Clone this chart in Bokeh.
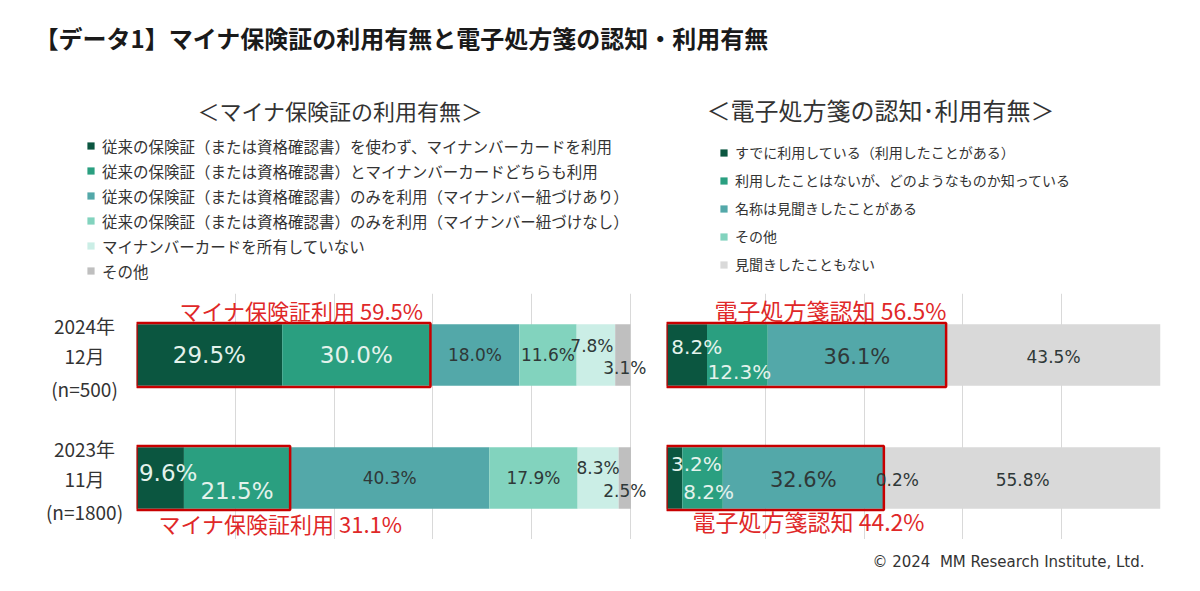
from bokeh.plotting import figure
from bokeh.models import (ColumnDataSource, FactorRange, Range1d, Legend, LegendItem,
                          LabelSet, Label, FixedTicker)
from bokeh.layouts import column, row
from bokeh.embed import file_html
from bokeh.resources import INLINE
from bokeh.core.properties import value

# ---------------- data ----------------
TITLE = "【データ1】マイナ保険証の利用有無と電子処方箋の認知・利用有無"
left_subtitle = "＜マイナ保険証の利用有無＞"
right_subtitle = "＜電子処方箋の認知･利用有無＞"
footer = "© 2024\u00a0 MM Research Institute, Ltd."

period_year = ["2024年", "2023年"]          # top -> bottom
period_month = ["12月", "11月"]
period_n = ["(n=500)", "(n=1800)"]
periods = [f"{a}{b}{c}" for a, b, c in zip(period_year, period_month, period_n)]

left_series = [
    "従来の保険証（または資格確認書）を使わず、マイナンバーカードを利用",
    "従来の保険証（または資格確認書）とマイナンバーカードどちらも利用",
    "従来の保険証（または資格確認書）のみを利用（マイナンバー紐づけあり）",
    "従来の保険証（または資格確認書）のみを利用（マイナンバー紐づけなし）",
    "マイナンバーカードを所有していない",
    "その他",
]
left_2024 = [29.5, 30.0, 18.0, 11.6, 7.8, 3.1]
left_2023 = [9.6, 21.5, 40.3, 17.9, 8.3, 2.5]
left_totals = [59.5, 31.1]
left_total_label = "マイナ保険証利用"

right_series = [
    "すでに利用している（利用したことがある）",
    "利用したことはないが、どのようなものか知っている",
    "名称は見聞きしたことがある",
    "その他",
    "見聞きしたこともない",
]
right_2024 = [8.2, 12.3, 36.1, 0.0, 43.5]
right_2023 = [3.2, 8.2, 32.6, 0.2, 55.8]
right_totals = [56.5, 44.2]
right_total_label = "電子処方箋認知"

# ---------------- style ----------------
JP = "Noto Sans CJK JP"
NUM = "DejaVu Sans"
TXT = "#333333"
DARK_TXT = "#2f3838"
LIGHT_TXT = "#e4f2ec"
RED_TXT = "#e02828"
RED_BOX = "#c80000"
GRID = "#d9d9d9"

left_colors = ["#0b5640", "#2a9f80", "#53a8a9", "#82d3be", "#cbeee6", "#bfbfbf"]
right_colors = ["#0b5640", "#2a9f80", "#53a8a9", "#82d3be", "#d9d9d9"]

# label style per period/segment: (dx, dy, size, color)  -- dy positive = up
left_lab_style = [
    [(0, 0, 23, LIGHT_TXT), (0, 0, 23, LIGHT_TXT), (0, 0, 17, DARK_TXT),
     (0, 0, 17, DARK_TXT), (-4, 9, 17, DARK_TXT), (2, -13, 17, DARK_TXT)],
    [(8, 5, 23, LIGHT_TXT), (0, -13, 23, LIGHT_TXT), (0, 0, 17, DARK_TXT),
     (0, 0, 17, DARK_TXT), (0, 10, 17, DARK_TXT), (0, -13, 17, DARK_TXT)],
]
right_lab_style = [
    [(10, 8, 20, LIGHT_TXT), (2, -17, 20, LIGHT_TXT), (0, -2, 21, DARK_TXT),
     None, (0, -2, 17, DARK_TXT)],
    [(22, 14, 20, LIGHT_TXT), (6, -14, 20, LIGHT_TXT), (0, -2, 21, DARK_TXT),
     (13, -2, 17, DARK_TXT), (0, -2, 17, DARK_TXT)],
]

HEADER_H = 290
BARS_H = 249
FOOTER_H = 36
BARS_TOP = 3


def bare(p):
    p.outline_line_color = None
    p.axis.visible = False
    p.grid.visible = False
    p.background_fill_color = None
    p.border_fill_color = None


# ---------------- header (title, subtitles, legends) ----------------
header = figure(width=1184, height=HEADER_H, output_backend="svg", toolbar_location=None,
                x_range=Range1d(0, 1), y_range=Range1d(0, 1), min_border=0)
bare(header)
header.add_layout(Label(x=34, y=253, x_units="screen", y_units="screen", text=TITLE,
                        text_align="left", text_baseline="middle", text_font=JP,
                        text_font_size="24px", text_font_style="bold", text_color="#1a1a1a"))
header.add_layout(Label(x=340, y=181, x_units="screen", y_units="screen", text=left_subtitle,
                        text_align="center", text_baseline="middle", text_font=JP,
                        text_font_size="22px", text_color=TXT))
header.add_layout(Label(x=880, y=181, x_units="screen", y_units="screen", text=right_subtitle,
                        text_align="center", text_baseline="middle", text_font=JP,
                        text_font_size="24px", text_color=TXT))

NAN = float("nan")


def legend_for(series, colors, loc, font_size, item_h):
    items = []
    for name, c in zip(series, colors):
        # legend swatch proxy (NaN geometry: nothing is drawn in the header frame)
        r = header.hbar(y=[NAN], left=[NAN], right=[NAN], height=0.5,
                        fill_color=c, line_color=None)
        items.append(LegendItem(label=name, renderers=[r]))
    lg = Legend(items=items, location=loc, orientation="vertical", glyph_width=9,
                glyph_height=9, label_text_font=JP, label_text_font_size=font_size,
                label_text_color=TXT, label_standoff=7, label_height=item_h, spacing=0,
                padding=0, margin=0, background_fill_alpha=0, border_line_alpha=0)
    header.add_layout(lg)


legend_for(left_series, left_colors, (86, 7), "15.5px", 25)
legend_for(right_series, right_colors, (719, 12), "14px", 28)


# ---------------- bar panels ----------------
def make_panel(width, mb_left, mb_right, x_end, series, colors, rows, totals, total_label,
               lab_style, total_style, total_size):
    p = figure(width=width, height=BARS_H, output_backend="svg", toolbar_location=None,
               y_range=FactorRange(factors=periods[::-1]), x_range=Range1d(0, x_end),
               min_border_left=mb_left, min_border_right=mb_right,
               min_border_top=BARS_TOP, min_border_bottom=0)
    bare(p)
    p.xgrid.visible = True
    p.xgrid.ticker = FixedTicker(ticks=[0, 20, 40, 60, 80, 100])
    p.xgrid.grid_line_color = GRID
    p.xgrid.grid_line_width = 1

    lab = dict(x=[], y=[], text=[], dx=[], dy=[], size=[], color=[])
    starts = [0.0] * len(rows)
    for i, name in enumerate(series):
        vals = [r[i] for r in rows]
        lefts = list(starts)
        rights = [s + v for s, v in zip(starts, vals)]
        p.hbar(y=periods, left=lefts, right=rights, height=0.5,
               fill_color=colors[i], line_color=None)
        for k in range(len(rows)):
            st = lab_style[k][i]
            if st is None:
                continue
            lab["x"].append((lefts[k] + rights[k]) / 2)
            lab["y"].append(periods[k])
            lab["text"].append(f"{vals[k]:.1f}%")
            lab["dx"].append(st[0])
            lab["dy"].append(st[1])
            lab["size"].append(f"{st[2]}px")
            lab["color"].append(st[3])
        starts = rights

    # red boxes around the "use / awareness" share
    box_n = 2 if len(series) == 6 else 3
    box_right = [sum(r[:box_n]) for r in rows]
    p.hbar(y=periods, left=0, right=box_right, height=0.52, fill_color=None,
           line_color=RED_BOX, line_width=2.5)

    p.add_layout(LabelSet(source=ColumnDataSource(lab), x="x", y="y", text="text",
                          x_offset="dx", y_offset="dy", text_font_size="size",
                          text_color="color", text_font=value(NUM), text_align="center",
                          text_baseline="middle"))

    tot = dict(x=[0, 0], y=periods,
               text=[f"{total_label} {t:.1f}%" for t in totals],
               dx=[s[0] for s in total_style], dy=[s[1] for s in total_style])
    p.add_layout(LabelSet(source=ColumnDataSource(tot), x="x", y="y", text="text",
                          x_offset="dx", y_offset="dy", text_font_size=value(total_size),
                          text_color=RED_TXT, text_font=value(JP), text_align="left",
                          text_baseline="middle"))
    return p


# left frame: 0..100 spans 494px; extra room on the right for the small outside labels
left = make_panel(513, 0, 2, 100 * 511 / 494, left_series, left_colors,
                  [left_2024, left_2023], left_totals, left_total_label, left_lab_style,
                  total_style=[(43, 45), (22, -45)], total_size="22px")
right = make_panel(535, 17, 24, 100, right_series, right_colors,
                   [right_2024, right_2023], right_totals, right_total_label,
                   right_lab_style, total_style=[(48, 45), (26, -43)], total_size="23px")

# period labels, sharing the left panel's categorical y range
cats = figure(width=136, height=BARS_H, output_backend="svg", toolbar_location=None,
              y_range=left.y_range, x_range=Range1d(0, 1),
              min_border_left=0, min_border_right=0, min_border_top=BARS_TOP,
              min_border_bottom=0)
bare(cats)
cat_src = dict(y=[], text=[], dy=[])
for k, p_name in enumerate(periods):
    for txt, dy in ((period_year[k], 30), (period_month[k], 0), (period_n[k], -33)):
        cat_src["y"].append(p_name)
        cat_src["text"].append(txt)
        cat_src["dy"].append(dy)
cats.add_layout(LabelSet(source=ColumnDataSource(cat_src), x=84, y="y", x_units="screen",
                         y_offset="dy", text="text", text_align="center",
                         text_baseline="middle", text_font=value(JP),
                         text_font_size=value("19px"), text_color=TXT))

# footer
foot = figure(width=1184, height=FOOTER_H, output_backend="svg", toolbar_location=None,
              x_range=Range1d(0, 1), y_range=Range1d(0, 1), min_border=0)
bare(foot)
foot.add_layout(Label(x=1144, y=14, x_units="screen", y_units="screen", text=footer,
                      text_align="right", text_baseline="middle", text_font=NUM,
                      text_font_size="15px", text_color=TXT))

layout = column(header, row(cats, left, right, spacing=0), foot, spacing=0)

open("out.html", "w").write(file_html(layout, INLINE))
